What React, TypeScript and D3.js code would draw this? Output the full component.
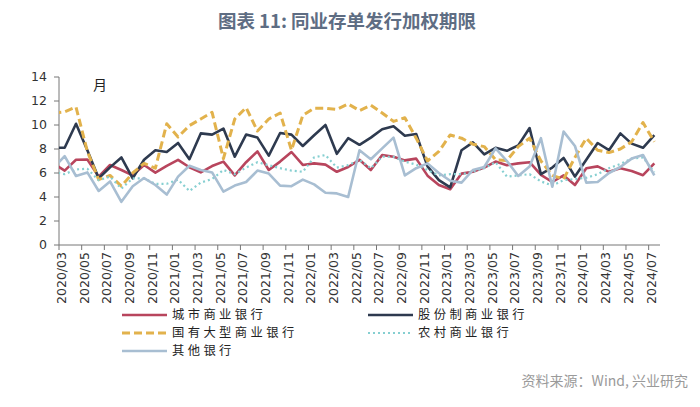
import React from 'react';
import * as d3 from 'd3';

// months 2020/02 .. 2024/07 ; the 2020/02 point only feeds the clipped lead-in at the y axis
const months = d3.timeMonth
  .range(new Date(2020, 1, 1), new Date(2024, 7, 1))
  .map(d3.timeFormat('%Y/%m'));

const cityBank = [6.8,
  6.2, 7.1, 7.12, 5.7, 6.67, 6.25, 5.8, 6.67, 6.03, 6.6,
  7.1, 6.48, 6.05, 6.58, 6.95, 5.8, 6.9, 7.8, 6.25, 6.95,
  7.75, 6.67, 6.8, 6.7, 6.1, 6.5, 7.1, 6.25, 7.5, 7.36,
  7.05, 7.2, 5.78, 5.0, 4.65, 5.95, 6.1, 6.45, 6.95, 6.65,
  6.8, 6.9, 5.85, 5.25, 5.8, 5.0, 6.4, 6.55, 6.1, 6.4,
  6.17, 5.82, 6.8];

const jointStock = [8.1,
  8.1, 10.1, 7.9, 5.56, 6.47, 7.3, 5.56, 7.1, 7.9, 7.75,
  8.5, 7.15, 9.3, 9.2, 9.7, 7.36, 9.2, 8.95, 7.45, 9.33,
  9.2, 8.25, 9.15, 10.0, 7.6, 8.9, 8.35, 8.95, 9.65, 9.9,
  9.1, 9.25, 6.55, 5.4, 4.8, 7.9, 8.55, 7.55, 8.1, 7.85,
  8.3, 9.75, 5.9, 6.45, 7.25, 5.7, 7.1, 8.5, 7.9, 9.3,
  8.45, 8.1, 9.15];

const stateOwned = [11.0,
  11.1, 11.5, 7.8, 5.45, 5.8, 4.9, 6.0, 6.8, 6.4, 10.1,
  9.0, 9.95, 10.5, 11.05, 7.2, 10.5, 11.45, 9.5, 10.5, 11.0,
  7.9, 10.8, 11.4, 11.4, 11.3, 11.75, 11.2, 11.65, 11.0, 10.3,
  10.6, 8.9, 7.0, 7.8, 9.17, 8.9, 8.4, 8.2, 7.1, 7.05,
  8.2, 8.9, 7.0, 5.8, 5.5, 7.3, 8.9, 7.9, 7.7, 8.0,
  8.6, 10.2, 8.6];

const rural = [6.1,
  5.9, 6.3, 6.35, 5.4, 5.7, 4.7, 5.55, 5.55, 5.1, 5.1,
  5.45, 4.5, 5.2, 5.5, 6.25, 5.9, 6.45, 6.9, 6.65, 6.4,
  6.2, 6.1, 7.3, 7.5, 6.45, 6.65, 7.1, 6.4, 7.36, 7.35,
  6.95, 6.7, 6.25, 5.8, 5.9, 5.9, 6.1, 6.4, 6.9, 5.7,
  5.8, 5.9, 5.3, 4.95, 5.4, 5.5, 5.6, 5.9, 6.4, 6.75,
  7.2, 7.3, 6.05];

const others = [6.4,
  7.4, 5.75, 6.05, 4.5, 5.3, 3.6, 4.9, 5.58, 5.0, 4.2,
  5.7, 6.6, 6.25, 6.05, 4.45, 4.95, 5.25, 6.2, 5.95, 4.95,
  4.9, 5.45, 5.05, 4.35, 4.3, 4.0, 7.9, 7.15, 8.05, 8.95,
  5.8, 6.4, 6.8, 6.0, 5.35, 5.2, 6.25, 6.5, 8.05, 7.0,
  5.75, 6.55, 8.9, 4.86, 9.45, 8.25, 5.2, 5.25, 6.0, 6.5,
  7.2, 7.5, 5.8];

const yTicks = [0, 2, 4, 6, 8, 10, 12, 14];

const series = [
  { name: '城市商业银行', values: cityBank, color: '#b8455d', width: 2.6, dash: null },
  { name: '股份制商业银行', values: jointStock, color: '#2e3a4f', width: 2.6, dash: null },
  { name: '国有大型商业银行', values: stateOwned, color: '#e2b24c', width: 3, dash: '8,4' },
  { name: '农村商业银行', values: rural, color: '#86cfd1', width: 2.2, dash: '2,3' },
  { name: '其他银行', values: others, color: '#a8bed2', width: 2.6, dash: null },
];

const legendPos = [
  [122, 315], [368, 315],
  [122, 333], [368, 333],
  [122, 351],
];

const App = () => {
  const width = 700;
  const height = 407;
  const left = 59;
  const right = 660;

  const x = d3.scaleBand().domain(months).range([left - (right - left) / 53, right]);
  const bw = x.bandwidth();
  const y = d3.scaleLinear().domain([0, 14]).range([245, 77]);

  const line = d3.line<number>()
    .x((d, i) => x(months[i])! + bw / 2)
    .y(d => y(d));

  // tick every two months, starting at 2020/03
  const tickMonths = months.filter((m, i) => i % 2 === 1);

  return (
    <svg width={width} height={height} style={{ position: 'absolute', left: 0, top: 0, background: '#fff' }}>
      <defs>
        <clipPath id="plot">
          <rect x={left} y={0} width={width - left} height={height} />
        </clipPath>
      </defs>

      <text x={347} y={28} textAnchor="middle" fontFamily="'Noto Sans CJK SC', sans-serif"
        fontWeight="bold" fontSize={18.5} fill="#5e6d83">图表 11: 同业存单发行加权期限</text>

      {/* y axis */}
      <line x1={left} x2={left} y1={y(14)} y2={y(0)} stroke="#777" strokeWidth={1} />
      {yTicks.map(t => (
        <g key={t}>
          <line x1={left - 5} x2={left} y1={y(t)} y2={y(t)} stroke="#777" />
          <text x={47} y={y(t)} dy="0.35em" textAnchor="end" fontFamily="'DejaVu Sans', sans-serif"
            fontSize={12.5} fill="#333">{t}</text>
        </g>
      ))}
      <text x={93} y={90} fontFamily="'Noto Sans CJK SC', sans-serif" fontSize={14} fill="#222">月</text>

      {/* x axis */}
      <line x1={left} x2={right} y1={y(0)} y2={y(0)} stroke="#777" strokeWidth={1} />
      {tickMonths.map(m => (
        <g key={m}>
          <line x1={x(m)} x2={x(m)} y1={y(0)} y2={y(0) + 5} stroke="#777" />
          <text transform={`translate(${x(m)! + 2.5},${y(0) + 5}) rotate(-90)`} x={-2} dy="0.35em"
            textAnchor="end" fontFamily="'DejaVu Sans', sans-serif" fontSize={12.5} fill="#333">{m}</text>
        </g>
      ))}

      {/* lines */}
      <g clipPath="url(#plot)">
        {series.map(s => (
          <path key={s.name} d={line(s.values) || ''} fill="none" stroke={s.color}
            strokeWidth={s.width} strokeDasharray={s.dash || undefined} strokeLinejoin="round" />
        ))}
      </g>

      {/* legend */}
      {series.map((s, i) => {
        const [lx, ly] = legendPos[i];
        return (
          <g key={s.name}>
            <line x1={lx} x2={lx + 45} y1={ly} y2={ly} stroke={s.color} strokeWidth={s.width}
              strokeDasharray={s.dash || undefined} />
            <text x={lx + 50} y={ly} dy="0.36em" fontFamily="'Noto Sans CJK SC', sans-serif"
              fontSize={12.3} letterSpacing={3.4} fill="#222">{s.name}</text>
          </g>
        );
      })}

      <text x={688} y={386} textAnchor="end" fontFamily="'Noto Sans CJK SC', sans-serif"
        fontSize={14} fill="#9a9a9a">资料来源：Wind, 兴业研究</text>
    </svg>
  );
};

export default App;
